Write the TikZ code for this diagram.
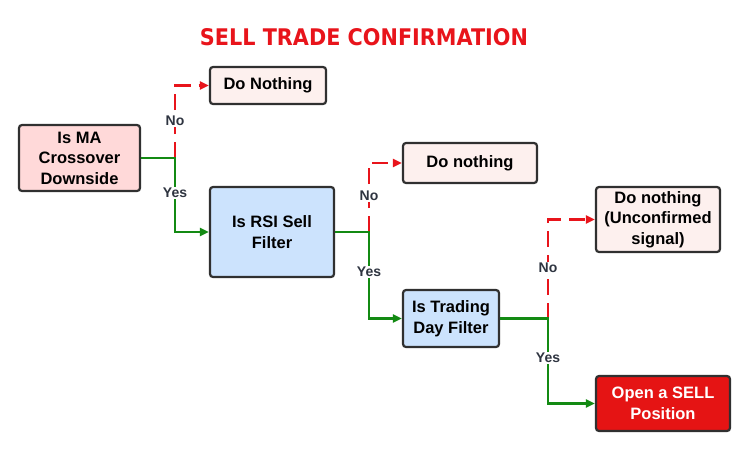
\documentclass[tikz,border=0pt]{standalone}
\usepackage{fontspec}
\setmainfont{Liberation Sans}
\newfontfamily\titlefont{DejaVu Sans}
\usetikzlibrary{arrows.meta}
\definecolor{tred}{HTML}{E8141B}
\definecolor{lgreen}{HTML}{138A13}
\definecolor{bpink}{HTML}{FFD9D9}
\definecolor{lpink}{HTML}{FDF0EE}
\definecolor{lblue}{HTML}{CCE3FD}
\definecolor{bred}{HTML}{E51414}
\definecolor{bord}{HTML}{303030}
\definecolor{lbl}{HTML}{2E3440}
\begin{document}
\begin{tikzpicture}[x=1pt,y=-1pt,
  box/.style={draw=bord,line width=2.2pt,rounded corners=3pt,align=center,inner sep=2pt,
    font=\fontsize{16.5}{20.5}\selectfont\bfseries},
  yesline/.style={draw=lgreen,line width=2.4pt},
  noline/.style={draw=tred,line width=2.4pt,dash pattern=on 16pt off 8pt},
  tip/.style={-{Triangle[length=9pt,width=8pt]}},
  lab/.style={fill=white,text=lbl,inner sep=1.5pt,font=\fontsize{14}{16}\selectfont\bfseries}]
\useasboundingbox (0,0) rectangle (749,451);
\node (title) at (364,37) {\color{tred}\resizebox{328pt}{17pt}{\titlefont\bfseries SELL TRADE CONFIRMATION}};
\node[box,fill=bpink,minimum width=121pt,minimum height=66pt] (b1) at (79.5,158) {Is MA\\Crossover\\Downside};
\node[box,fill=lpink,minimum width=116pt,minimum height=37pt] (dn1) at (268,85.5) {Do Nothing};
\node[box,fill=lblue,minimum width=124pt,minimum height=90pt] (rsi) at (272,232) {Is RSI Sell\\Filter};
\node[box,fill=lpink,minimum width=134pt,minimum height=40pt] (dn2) at (470,163) {Do nothing};
\node[box,fill=lblue,minimum width=96pt,minimum height=57pt] (td) at (451,318.5) {Is Trading\\Day Filter};
\node[box,fill=lpink,minimum width=124pt,minimum height=65pt] (dn3) at (658,219.5) {Do nothing\\(Unconfirmed\\signal)};
\node[box,fill=bred,text=white,minimum width=134pt,minimum height=55pt] (op) at (663,403.5) {Open a SELL\\Position};
\coordinate (j1) at (175,158);
\coordinate (j2) at (369,232);
\coordinate (j3) at (548,318.5);
% branch 1
\draw[noline,tip] (j1) |- (dn1.west);
\draw[yesline,tip] (b1.east) -- (j1) |- (rsi.west);
\node[lab] (no1) at (175,121) {No};
\node[lab] (yes1) at (175,193) {Yes};
% branch 2
\draw[noline,tip] (j2) |- (dn2.west);
\draw[yesline,tip] (rsi.east) -- (j2) |- (td.west);
\node[lab] (no2) at (369,196) {No};
\node[lab] (yes2) at (369,272) {Yes};
% branch 3
\draw[noline,tip] (j3) |- (dn3.west);
\draw[yesline,tip] (td.east) -- (j3) |- (op.west);
\node[lab] (no3) at (548,268) {No};
\node[lab] (yes3) at (548,358) {Yes};
\end{tikzpicture}
\end{document}
